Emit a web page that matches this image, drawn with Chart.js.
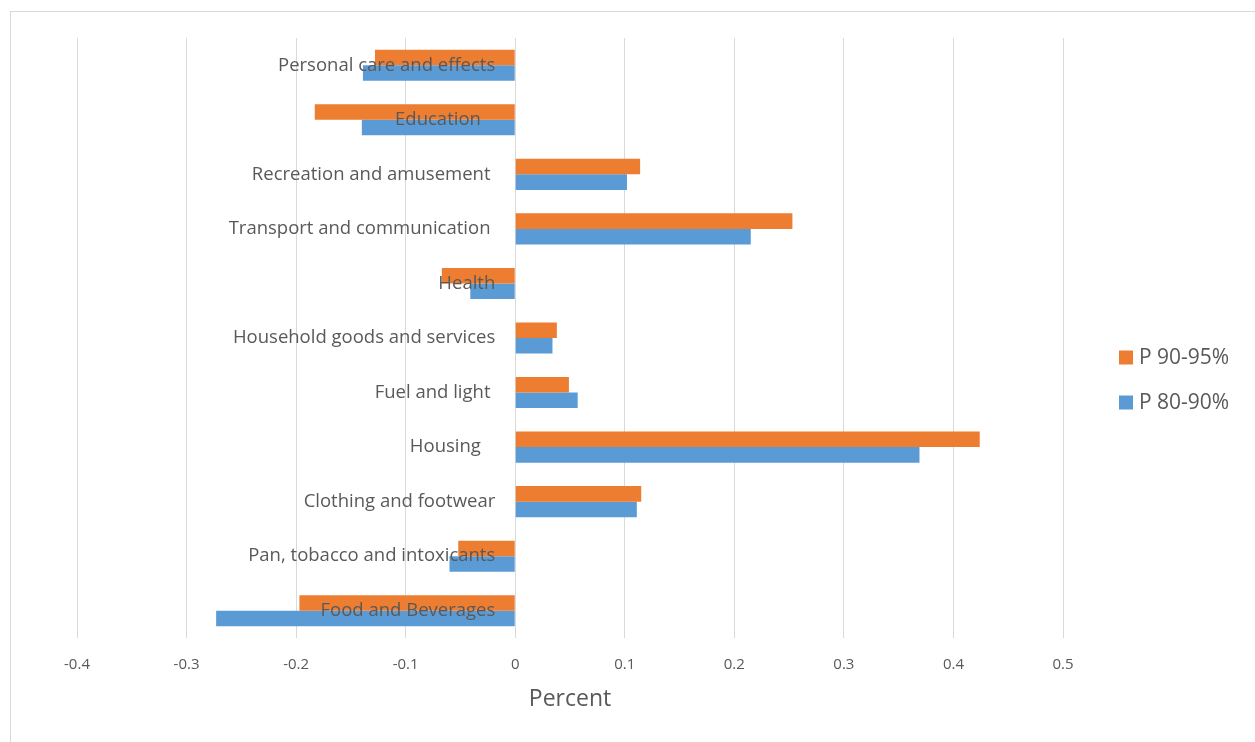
<!DOCTYPE html>
<html>
<head>
<meta charset="utf-8">
<script src="https://cdn.jsdelivr.net/npm/chart.js@4/dist/chart.umd.min.js"></script>
<style>
  html, body { margin: 0; padding: 0; background: #fff; overflow: hidden; }
  #wrap { position: relative; width: 1255px; height: 742px; }
  #frame { position: absolute; left: 10px; top: 11px; width: 1300px; height: 800px; border: 1px solid #d9d9d9; box-sizing: border-box; pointer-events: none; }
  canvas { position: absolute; left: 0; top: 0; }
</style>
</head>
<body>
<div id="wrap">
  <div id="frame"></div>
  <canvas id="chart" width="1255" height="742"></canvas>
</div>
<script>
// Expenditure categories, listed top to bottom (some names carry trailing spaces)
const categories = [
  'Personal care and effects',
  'Education   ',
  'Recreation and amusement ',
  'Transport and communication ',
  'Health',
  'Household goods and services',
  'Fuel and light ',
  'Housing   ',
  'Clothing and footwear',
  'Pan, tobacco and intoxicants',
  'Food and Beverages'
];

const seriesNames = ['P 90-95%', 'P 80-90%'];

const p90to95 = [-0.128, -0.183, 0.114, 0.253, -0.067, 0.038, 0.049, 0.424, 0.115, -0.052, -0.197];
const p80to90 = [-0.139, -0.140, 0.102, 0.215, -0.041, 0.034, 0.057, 0.369, 0.111, -0.060, -0.273];

const xTicks = [-0.4, -0.3, -0.2, -0.1, 0, 0.1, 0.2, 0.3, 0.4, 0.5];

const TEXT = '#595959';
const FONT = "'Open Sans', 'Noto Sans', sans-serif";

// Legend drawn to the right of the plot, stacked vertically
const sideLegend = {
  id: 'sideLegend',
  afterDraw(chart) {
    const { ctx, chartArea } = chart;
    const x = chartArea.right + 56;
    const y0 = chartArea.top + 319.5;
    ctx.save();
    ctx.font = '21px ' + FONT;
    ctx.textBaseline = 'middle';
    ctx.textAlign = 'left';
    chart.data.datasets.forEach((ds, i) => {
      const y = y0 + i * 45;
      ctx.fillStyle = ds.backgroundColor;
      ctx.fillRect(x, y - 7, 14, 14);
      ctx.fillStyle = TEXT;
      ctx.fillText(ds.label, x + 20, y + 1);
    });
    ctx.restore();
  }
};

new Chart(document.getElementById('chart'), {
  type: 'bar',
  data: {
    labels: categories,
    datasets: [
      { label: seriesNames[0], data: p90to95, backgroundColor: '#ED7D31' },
      { label: seriesNames[1], data: p80to90, backgroundColor: '#5B9BD5' }
    ]
  },
  options: {
    indexAxis: 'y',
    responsive: false,
    animation: false,
    devicePixelRatio: 1,
    categoryPercentage: 0.57,
    barPercentage: 1.0,
    layout: { padding: { left: 77, top: 38, right: 192, bottom: 29 } },
    plugins: {
      legend: { display: false },
      tooltip: { enabled: false }
    },
    scales: {
      x: {
        type: 'linear',
        min: xTicks[0],
        max: xTicks[xTicks.length - 1],
        afterBuildTicks(scale) { scale.ticks = xTicks.map(v => ({ value: v })); },
        grid: { color: '#d9d9d9', lineWidth: 1, drawTicks: false },
        border: { display: false },
        ticks: {
          padding: 18,
          color: TEXT,
          font: { family: FONT, size: 15 },
          callback: v => String(Number(v.toFixed(1)))
        },
        title: {
          display: true,
          text: 'Percent',
          color: TEXT,
          font: { family: FONT, size: 23, lineHeight: 1 },
          padding: { top: -4, bottom: 2 }
        }
      },
      y: {
        type: 'category',
        // labels sit just left of the zero line, drawn over the bars
        position: { x: -0.0182 },
        grid: { display: false, drawTicks: false },
        border: { display: false },
        ticks: {
          z: 1,
          padding: 0,
          color: TEXT,
          font: { family: FONT, size: 18.5 }
        }
      }
    }
  },
  plugins: [sideLegend]
});
</script>
</body>
</html>
